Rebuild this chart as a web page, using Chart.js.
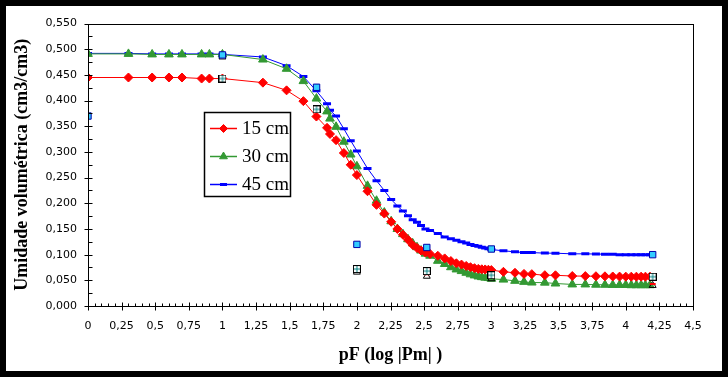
<!DOCTYPE html>
<html>
<head>
<meta charset="utf-8">
<script src="https://cdn.jsdelivr.net/npm/chart.js@4/dist/chart.umd.min.js"></script>
<style>
  html, body { margin: 0; padding: 0; background: #000; }
  #wrap { position: absolute; left: 6px; top: 6px; width: 716px; height: 365px; background: #fff; }
</style>
</head>
<body>
<div id="wrap"><canvas id="chart" width="716" height="365"></canvas></div>
<script>
// pF values of the fitted curves (log10 of |Pm|)
const pF = [0, 0.301, 0.477, 0.602, 0.699, 0.845, 0.903, 1,
  1.301, 1.477, 1.602, 1.699, 1.778, 1.8, 1.845, 1.903, 1.954, 2,
  2.079, 2.146, 2.204, 2.255, 2.301, 2.342, 2.380, 2.415, 2.447, 2.477, 2.51,
  2.544, 2.602, 2.653, 2.699, 2.740, 2.778, 2.813, 2.845, 2.875, 2.903, 2.929, 2.954, 2.978, 3,
  3.09, 3.176, 3.243, 3.301, 3.398, 3.477, 3.602, 3.699, 3.778, 3.845, 3.903, 3.954,
  4, 4.041, 4.079, 4.114, 4.146, 4.18];

const theta15 = [0.445, 0.445, 0.445, 0.445, 0.445, 0.443, 0.443, 0.443,
  0.435, 0.420, 0.399, 0.369, 0.347, 0.335, 0.323, 0.298, 0.275, 0.255,
  0.2235, 0.197, 0.180, 0.164, 0.150, 0.139, 0.129, 0.119, 0.113, 0.108, 0.104,
  0.1015, 0.0978, 0.0927, 0.0876, 0.0832, 0.0807, 0.078, 0.0756, 0.0737, 0.0723, 0.0715, 0.0712, 0.0706, 0.070,
  0.0666, 0.0647, 0.0625, 0.062, 0.060, 0.0598, 0.0584, 0.0582, 0.058, 0.0578, 0.0575, 0.0573,
  0.0572, 0.0571, 0.0571, 0.0571, 0.0571, 0.0571];

const theta30 = [0.491, 0.491, 0.490, 0.490, 0.490, 0.490, 0.490, 0.490,
  0.480, 0.462, 0.438, 0.404, 0.379, 0.365, 0.349, 0.320, 0.295, 0.272,
  0.234, 0.205, 0.182, 0.165, 0.150, 0.140, 0.130, 0.122, 0.1145, 0.108, 0.102,
  0.098, 0.088, 0.0818, 0.0755, 0.0712, 0.068, 0.0647, 0.0617, 0.0595, 0.0575, 0.0562, 0.0552, 0.0545, 0.053,
  0.0514, 0.049, 0.047, 0.0457, 0.0455, 0.0438, 0.042, 0.042, 0.0415, 0.0413, 0.041, 0.041,
  0.041, 0.0405, 0.0405, 0.0405, 0.0405, 0.0405];

const theta45 = [0.492, 0.492, 0.491, 0.491, 0.491, 0.491, 0.491, 0.490,
  0.485, 0.468, 0.447, 0.419, 0.394, 0.381, 0.370, 0.345, 0.322, 0.302,
  0.268, 0.244, 0.225, 0.2075, 0.195, 0.185, 0.176, 0.168, 0.163, 0.157, 0.150,
  0.147, 0.141, 0.1346, 0.1308, 0.128, 0.125, 0.1225, 0.120, 0.118, 0.1165, 0.1145, 0.113, 0.1115, 0.110,
  0.1075, 0.1055, 0.104, 0.104, 0.103, 0.1028, 0.1016, 0.1016, 0.1012, 0.101, 0.1009, 0.100,
  0.0997, 0.0997, 0.0997, 0.0997, 0.0997, 0.0997];

// measured points
const obs45X = [0, 1, 1.7, 2, 2.52, 3, 4.2];
const obs45Y = [0.370, 0.489, 0.426, 0.120, 0.114, 0.111, 0.100];
const obs15X = [1, 1.7, 2, 2.52, 3, 4.2];
const obs15Y = [0.443, 0.383, 0.072, 0.068, 0.060, 0.057];
const obs30X = [1, 2, 2.52, 3, 4.2];
const obs30Y = [0.485, 0.066, 0.058, 0.053, 0.040];
const obsRedX = [2, 2.52, 3, 4.2];
const obsRedY = [0.070, 0.062, 0.056, 0.043];

const seriesLabels = ['15 cm', '30 cm', '45 cm'];

const toXY = (xs, ys) => xs.map((x, i) => ({ x: x, y: ys[i] }));

// square marker with a small cross inside
const crossBox = document.createElement('canvas');
crossBox.width = 8; crossBox.height = 8;
(function () {
  const c = crossBox.getContext('2d');
  c.fillStyle = '#fff';
  c.fillRect(0, 0, 8, 8);
  c.strokeStyle = '#000';
  c.lineWidth = 1;
  c.strokeRect(0.5, 0.5, 7, 7);
  c.strokeStyle = '#008080';
  c.beginPath();
  c.moveTo(4, 1); c.lineTo(4, 7);
  c.moveTo(1, 4); c.lineTo(7, 4);
  c.stroke();
})();

const frameTicks = {
  id: 'frameTicks',
  afterDatasetsDraw(chart) {
    const ctx = chart.ctx;
    const a = chart.chartArea;
    const xs = chart.scales.x, ys = chart.scales.y;
    ctx.save();
    ctx.strokeStyle = '#000';
    ctx.lineWidth = 1;
    ctx.strokeRect(Math.round(a.left) + 0.5, Math.round(a.top) + 0.5,
      Math.round(a.right - a.left), Math.round(a.bottom - a.top));
    ctx.beginPath();
    const bottom = Math.round(a.bottom) + 0.5;
    for (let i = 0; i <= 90; i++) {
      const px = Math.round(xs.getPixelForValue(i * 0.05)) + 0.5;
      if (i % 5 === 0) { ctx.moveTo(px, bottom - 4); ctx.lineTo(px, bottom + 4); }
      else { ctx.moveTo(px, bottom - 3); ctx.lineTo(px, bottom); }
    }
    const left = Math.round(a.left) + 0.5;
    for (let i = 0; i <= 22; i++) {
      const py = Math.round(ys.getPixelForValue(i * 0.025)) + 0.5;
      if (i % 2 === 0) { ctx.moveTo(left - 4, py); ctx.lineTo(left + 4, py); }
      else { ctx.moveTo(left, py); ctx.lineTo(left + 4, py); }
    }
    ctx.stroke();
    ctx.restore();
  }
};

const boxLegend = {
  id: 'boxLegend',
  afterDraw(chart) {
    const ctx = chart.ctx;
    const bx = 198.5, by = 106.5, bw = 86, bh = 84;
    ctx.save();
    ctx.fillStyle = '#fff';
    ctx.fillRect(bx, by, bw, bh);
    ctx.strokeStyle = '#000';
    ctx.lineWidth = 1.5;
    ctx.strokeRect(bx, by, bw, bh);
    for (let i = 0; i < 3; i++) {
      const ds = chart.data.datasets[i];
      const cy = 122.5 + i * 28;
      ctx.strokeStyle = ds.borderColor;
      ctx.lineWidth = 1.5;
      ctx.beginPath();
      ctx.moveTo(204, cy); ctx.lineTo(231, cy);
      ctx.stroke();
      ctx.fillStyle = ds.pointBackgroundColor;
      ctx.strokeStyle = ds.pointBorderColor;
      ctx.lineWidth = ds.pointBorderWidth;
      Chart.helpers.drawPoint(ctx, { pointStyle: ds.pointStyle, radius: ds.pointRadius - 0.5, rotation: 0, borderWidth: ds.pointBorderWidth }, 217.5, cy);
      ctx.fillStyle = '#000';
      ctx.font = '19px "Liberation Serif"';
      ctx.textBaseline = 'middle';
      ctx.fillText(ds.label, 236, cy + 1);
    }
    ctx.restore();
  }
};

const curve = (label, ys, color, style, r, bw) => ({
  label: label,
  data: toXY(pF, ys),
  showLine: true,
  borderColor: color,
  borderWidth: 1,
  pointStyle: style,
  pointRadius: r,
  pointBackgroundColor: color,
  pointBorderColor: color,
  pointBorderWidth: bw,
  order: 5
});

new Chart(document.getElementById('chart'), {
  type: 'scatter',
  data: {
    datasets: [
      curve(seriesLabels[0], theta15, '#ff0000', 'rectRot', 4.5, 1),
      curve(seriesLabels[1], theta30, '#339933', 'triangle', 5, 1),
      curve(seriesLabels[2], theta45, '#0000ff', 'line', 4, 3),
      { label: 'obs 30', data: toXY(obs30X, obs30Y), pointStyle: 'triangle', pointRadius: 4,
        pointBackgroundColor: 'rgba(255,255,255,0)', pointBorderColor: '#000', pointBorderWidth: 1, order: 3 },
      { label: 'obs red', data: toXY(obsRedX, obsRedY), pointStyle: 'line', pointRadius: 3,
        pointBorderColor: '#ff0000', pointBorderWidth: 2, order: 2 },
      { label: 'obs 15', data: toXY(obs15X, obs15Y), pointStyle: crossBox, pointRadius: 4, order: 1 },
      { label: 'obs 45', data: toXY(obs45X, obs45Y), pointStyle: 'rect', pointRadius: 4.5,
        pointBackgroundColor: '#33ccff', pointBorderColor: '#0000aa', pointBorderWidth: 1, order: 0 }
    ]
  },
  options: {
    responsive: false,
    animation: false,
    events: [],
    layout: { padding: { top: 11, right: 29, bottom: 0, left: 0 } },
    plugins: { legend: { display: false }, tooltip: { enabled: false } },
    scales: {
      x: {
        type: 'linear', min: 0, max: 4.5,
        grid: { display: false, drawTicks: false },
        border: { display: false },
        ticks: {
          stepSize: 0.25, padding: 14, color: '#000', maxRotation: 0,
          font: { family: 'DejaVu Sans', size: 11 },
          callback: v => String(+v.toFixed(2)).replace('.', ',')
        },
        title: {
          display: true, text: 'pF (log |Pm| )', color: '#000',
          font: { family: 'Liberation Serif', size: 18, weight: 'bold' },
          padding: { top: 0, bottom: 5 }
        },
        afterFit: s => { s.height = 65; }
      },
      y: {
        type: 'linear', min: 0, max: 0.55,
        grid: { display: false, drawTicks: false },
        border: { display: false },
        ticks: {
          stepSize: 0.05, padding: 11, color: '#000',
          font: { family: 'DejaVu Sans', size: 11 },
          callback: v => v.toFixed(3).replace('.', ',')
        },
        title: {
          display: true, text: 'Umidade volumétrica (cm3/cm3)', color: '#000',
          font: { family: 'Liberation Serif', size: 18, weight: 'bold' },
          padding: { top: 6, bottom: 0 }
        },
        afterFit: s => { s.width = 82; }
      }
    }
  },
  plugins: [frameTicks, boxLegend]
});
</script>
</body>
</html>
